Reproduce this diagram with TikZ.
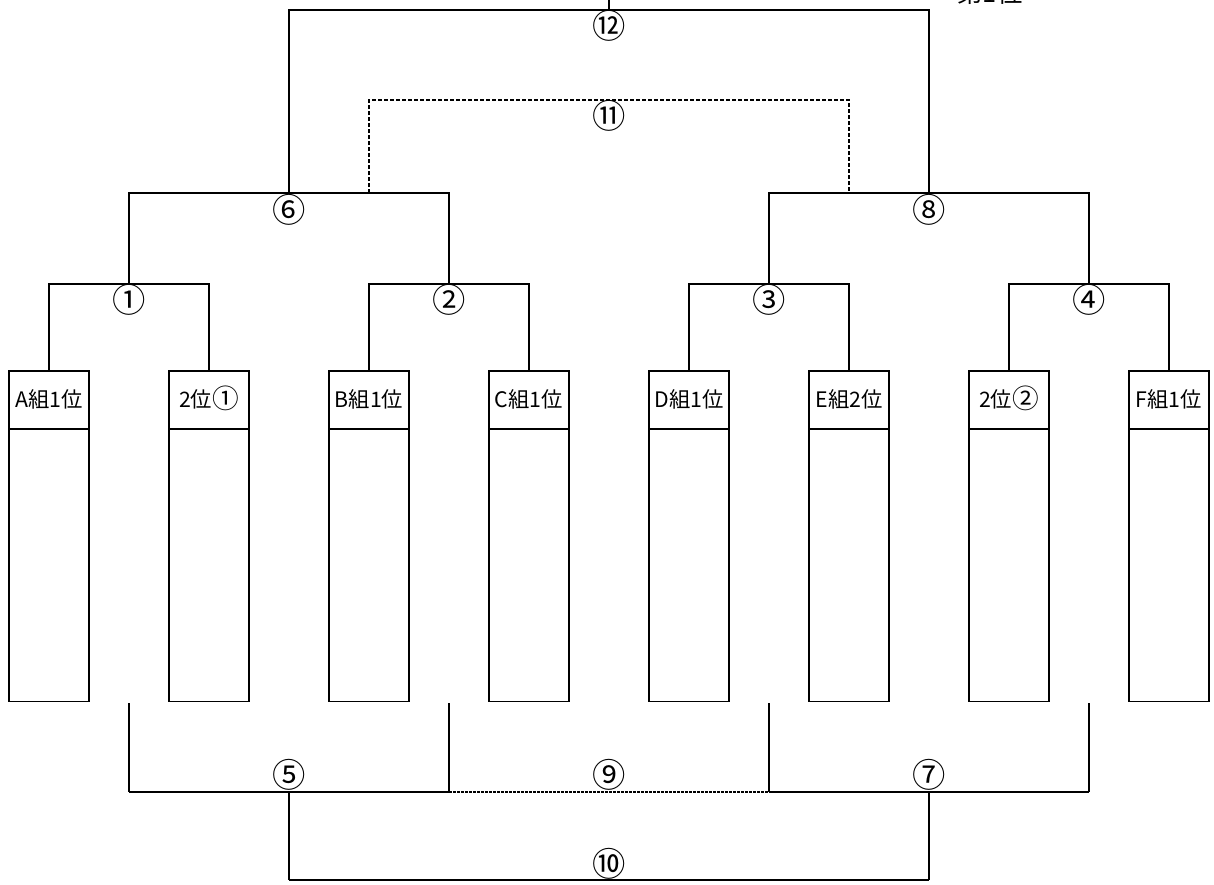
\documentclass[tikz,border=0pt]{standalone}
\usepackage{fontspec}
\setmainfont{Noto Sans CJK JP}
\newcommand{\circnum}[1]{{\fontsize{20}{16}\selectfont\raisebox{-0.6pt}{#1}}}
\begin{document}
\begin{tikzpicture}[x=0.75pt,y=-0.75pt, line width=1.3pt,
  team/.style={draw, rectangle, minimum width=60pt, minimum height=248pt, anchor=north, inner sep=0pt},
  lbl/.style={font=\fontsize{16}{16}\selectfont, inner sep=0pt},
  num/.style={font=\fontsize{25}{25}\selectfont, inner sep=0pt},
  dsh/.style={dash pattern=on 3pt off 1.5pt},
  dsh2/.style={dash pattern=on 2pt off 1pt, line width=1pt}]
\useasboundingbox (0,0) rectangle (1214,885);

% team boxes
\foreach \i/\t in {1/A組1位,2/2位\circnum{①},3/B組1位,4/C組1位,5/D組1位,6/E組2位,7/2位\circnum{②},8/F組1位}{
  \node[team] (t\i) at ({49+160*(\i-1)},370) {};
  \draw ([yshift=-44.25pt]t\i.north west) -- ([yshift=-44.25pt]t\i.north east);
  \node[lbl, anchor=base] (l\i) at ([yshift=-28pt]t\i.north) {\t};
}

% round 1
\coordinate (r1) at (129,284);
\coordinate (r2) at (449,284);
\coordinate (r3) at (769,284);
\coordinate (r4) at (1089,284);
\draw (t1.north) |- (r1) -| (t2.north);
\draw (t3.north) |- (r2) -| (t4.north);
\draw (t5.north) |- (r3) -| (t6.north);
\draw (t7.north) |- (r4) -| (t8.north);
\node[num] (n1) at (129,300) {①};
\node[num] (n2) at (449,300) {②};
\node[num] (n3) at (769,300) {③};
\node[num] (n4) at (1089,300) {④};

% round 2
\coordinate (s1) at (289,193);
\coordinate (s2) at (929,193);
\draw (r1) |- (s1) -| (r2);
\draw (r3) |- (s2) -| (r4);
\node[num] (n6) at (289,210) {⑥};
\node[num] (n8) at (929,210) {⑧};

% dashed (11)
\coordinate (q1) at (369,193);
\coordinate (q2) at (849,193);
\coordinate (c11) at (609,100);
\draw[dsh] (q1) |- (c11) -| (q2);
\node[num] (n11) at (609,116) {⑪};

% final (12)
\coordinate (c12) at (609,10);
\coordinate (top) at (609,-2);
\draw (s1) |- (c12) -| (s2);
\draw (c12) -- (top);
\node[num] (n12) at (609,26) {⑫};
\node[font=\fontsize{19}{19}\selectfont, inner sep=0pt] (first) at (990,-7) {第1位};

% bottom brackets
\coordinate (u1) at (129,703);
\coordinate (u2) at (449,703);
\coordinate (u3) at (769,703);
\coordinate (u4) at (1089,703);
\coordinate (d5) at (289,792);
\coordinate (d7) at (929,792);
\draw[line width=1pt] (u1) -- (u1 |- d5);
\draw[line width=1pt] (u2) -- (u2 |- d5);
\draw[line width=1pt] (u3) -- (u3 |- d7);
\draw[line width=1pt] (u4) -- (u4 |- d7);
\draw (u1 |- d5) -- (u2 |- d5);
\draw (u3 |- d7) -- (u4 |- d7);
\draw[dsh2] (u2 |- d5) -- (u3 |- d7);
\node[num] (n5) at (289,775) {⑤};
\node[num] (n9) at (609,775) {⑨};
\node[num] (n7) at (929,775) {⑦};

% (10)
\coordinate (c10) at (609,880);
\draw[line width=1pt] (d5) -- (d5 |- c10);
\draw[line width=1pt] (d7) -- (d7 |- c10);
\draw (d5 |- c10) -- (d7 |- c10);
\node[num] (n10) at (609,864) {⑩};
\end{tikzpicture}
\end{document}
